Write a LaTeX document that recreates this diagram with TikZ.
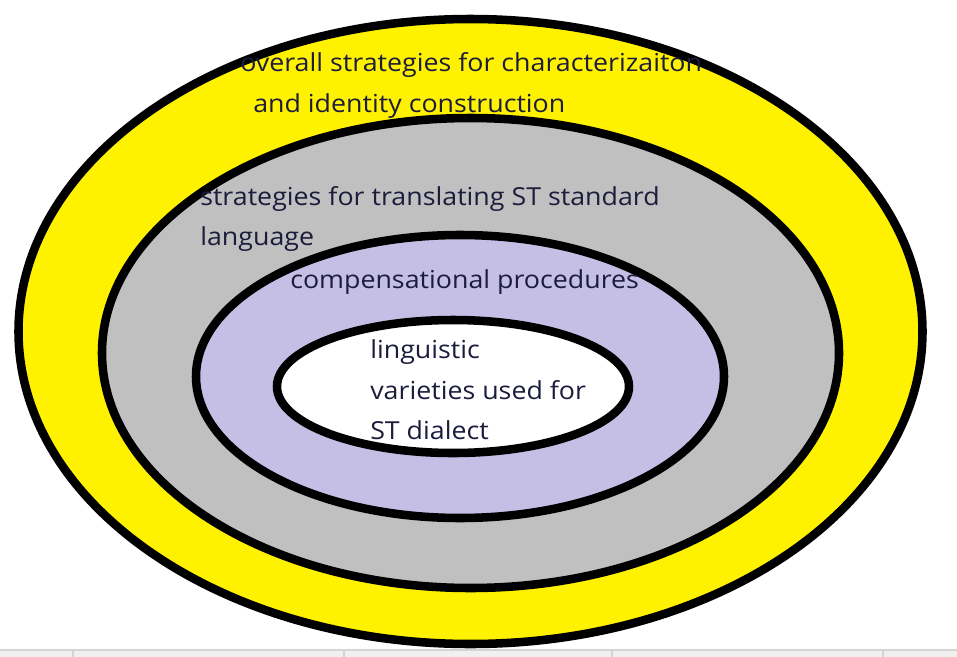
\documentclass[tikz,border=0pt]{standalone}
\usepackage{fontspec}
\setmainfont{Open Sans}[FakeStretch=1.08]
\definecolor{ringyellow}{HTML}{FFF200}
\definecolor{ringgray}{HTML}{C0C0C0}
\definecolor{ringlilac}{HTML}{C5BFE5}
\definecolor{labelink}{HTML}{1C1C3C}
\definecolor{barfill}{HTML}{F0F0F0}
\definecolor{barline}{HTML}{D4D4D4}
\tikzset{
  ring/.style={draw=black, line width=6.4pt},
  lbl/.style={anchor=base west, inner sep=0pt, text=labelink,
              font=\fontsize{18.6}{22}\selectfont},
}
\begin{document}
\begin{tikzpicture}[x=0.75pt, y=-0.75pt]
\useasboundingbox (0,0) rectangle (957,657);
\fill[white] (0,0) rectangle (957,657);
% status bar along the bottom edge
\fill[barfill] (0,650) rectangle (957,657);
\draw[barline, line width=0.9pt] (0,650) -- (957,650);
\foreach \bx in {73,344,612,883}
  \draw[barline, line width=0.9pt] (\bx,651) -- (\bx,657);
% nested rings, outermost first
\draw[ring, fill=ringyellow] (470.5,331.5) ellipse [x radius=452, y radius=312.5];
\draw[ring, fill=ringgray]   (470.5,353)   ellipse [x radius=368.5, y radius=235];
\draw[ring, fill=ringlilac]  (460,376.5)   ellipse [x radius=264, y radius=141.5];
\draw[ring, fill=white]      (453,386.5)   ellipse [x radius=176, y radius=66.5];
% labels
\node[lbl] (outerA) at (240,71.5) {overall strategies for characterizaiton};
\node[lbl] (outerB) at (253,112) {and identity construction};
\node[lbl] (midA)   at (200,205) {strategies for translating ST standard};
\node[lbl] (midB)   at (200,245) {language};
\node[lbl] (comp)   at (290,288) {compensational procedures};
\node[lbl] (coreA)  at (370,358) {linguistic};
\node[lbl] (coreB)  at (370,399) {varieties used for};
\node[lbl] (coreC)  at (370,439) {ST dialect};
\end{tikzpicture}
\end{document}
